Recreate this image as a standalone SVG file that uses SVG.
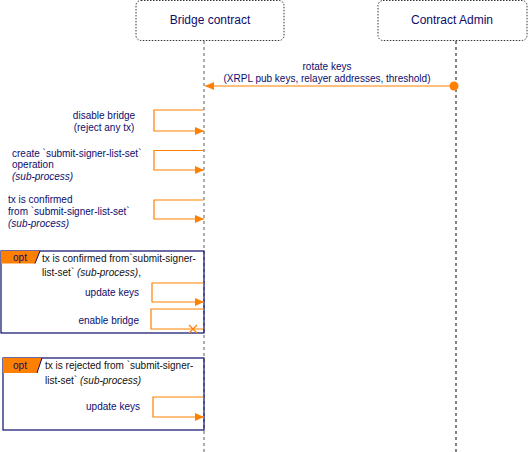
<svg xmlns="http://www.w3.org/2000/svg" width="528" height="452" viewBox="0 0 528 452">
<style>
text{font-family:"Liberation Sans",Arial,sans-serif;font-size:10px;fill:#0d0d6b}
.h{font-size:12px}
.c{fill:#111}
.i{font-style:italic}
.m{fill:none;stroke:#ff8000;stroke-width:1.2}
.life{stroke:#777;stroke-width:1.2;stroke-dasharray:3,3}
.head{fill:#fff;stroke:#333;stroke-dasharray:1.5,1.5;stroke-width:1}
.frame{fill:none;stroke:#0d0d6b;stroke-width:1.2}
.tab{fill:#ff8000}
</style>
<defs>
<marker id="ah" markerWidth="10" markerHeight="8" refX="9" refY="4" orient="auto" markerUnits="userSpaceOnUse">
<path d="M0,0 L9,4 L0,8 Z" fill="#ff8000"/>
</marker>
</defs>
<g id="lifelines">
<line class="life" x1="204" y1="41" x2="204" y2="452"/>
<line class="life" x1="456" y1="41" x2="456" y2="452" style="stroke:#333"/>
</g>
<g id="bridge"><rect class="head" x="136" y="0.5" width="148" height="40" rx="5"/><text class="h" x="210" y="24" text-anchor="middle">Bridge contract</text></g>
<g id="admin"><rect class="head" x="378" y="0.5" width="149" height="40" rx="5"/><text class="h" x="452" y="24" text-anchor="middle">Contract Admin</text></g>
<g id="opt1">
<rect class="frame" x="1" y="251" width="203" height="82"/>
<path class="tab" d="M1,251 H40 L35,263.5 H1 Z"/>
<line x1="40" y1="251" x2="35" y2="263.5" stroke="#0d0d6b" stroke-width="1"/>
<text x="20" y="261" text-anchor="middle">opt</text>
<text class="c" x="42" y="262">tx is confirmed from`submit-signer-</text>
<text class="c" x="42" y="276">list-set` <tspan class="i">(sub-process)</tspan>,</text>
</g>
<g id="opt2">
<rect class="frame" x="3" y="358" width="201" height="72"/>
<path class="tab" d="M3,358 H42 L37,373 H3 Z"/>
<line x1="42" y1="358" x2="37" y2="373" stroke="#0d0d6b" stroke-width="1"/>
<text x="20" y="369" text-anchor="middle">opt</text>
<text class="c" x="45" y="369">tx is rejected from `submit-signer-</text>
<text class="c" x="45" y="384">list-set` <tspan class="i">(sub-process)</tspan></text>
</g>
<g id="connectors">
<line class="m" x1="454" y1="86" x2="205" y2="86" marker-end="url(#ah)"/>
<circle cx="454" cy="86" r="4.5" fill="#ff8000"/>
<text x="327" y="70" text-anchor="middle">rotate keys</text>
<text x="327" y="82" text-anchor="middle">(XRPL pub keys, relayer addresses, threshold)</text>

<polyline class="m" points="204,110 154,110 154,131 204,131" marker-end="url(#ah)"/>
<text x="104" y="119" text-anchor="middle">disable bridge</text>
<text x="104" y="131" text-anchor="middle">(reject any tx)</text>

<polyline class="m" points="204,150.5 154,150.5 154,170 204,170" marker-end="url(#ah)"/>
<text x="12" y="157">create `submit-signer-list-set`</text>
<text x="12" y="168">operation</text>
<text class="i" x="12" y="180">(sub-process)</text>

<polyline class="m" points="204,200 154,200 154,219 204,219" marker-end="url(#ah)"/>
<text x="8" y="203">tx is confirmed</text>
<text x="8" y="215">from `submit-signer-list-set`</text>
<text class="i" x="8" y="227">(sub-process)</text>

<polyline class="m" points="204,283 152,283 152,302 204,302" marker-end="url(#ah)"/>
<text x="139" y="296" text-anchor="end">update keys</text>

<polyline class="m" points="204,309 151,309 151,329 203,329"/>
<path d="M189,325 L197,333 M197,325 L189,333" stroke="#ff8000" stroke-width="1.2"/>
<text x="139" y="324" text-anchor="end">enable bridge</text>

<polyline class="m" points="204,397 153,397 153,417 204,417" marker-end="url(#ah)"/>
<text x="140" y="410" text-anchor="end">update keys</text>
</g>
</svg>
